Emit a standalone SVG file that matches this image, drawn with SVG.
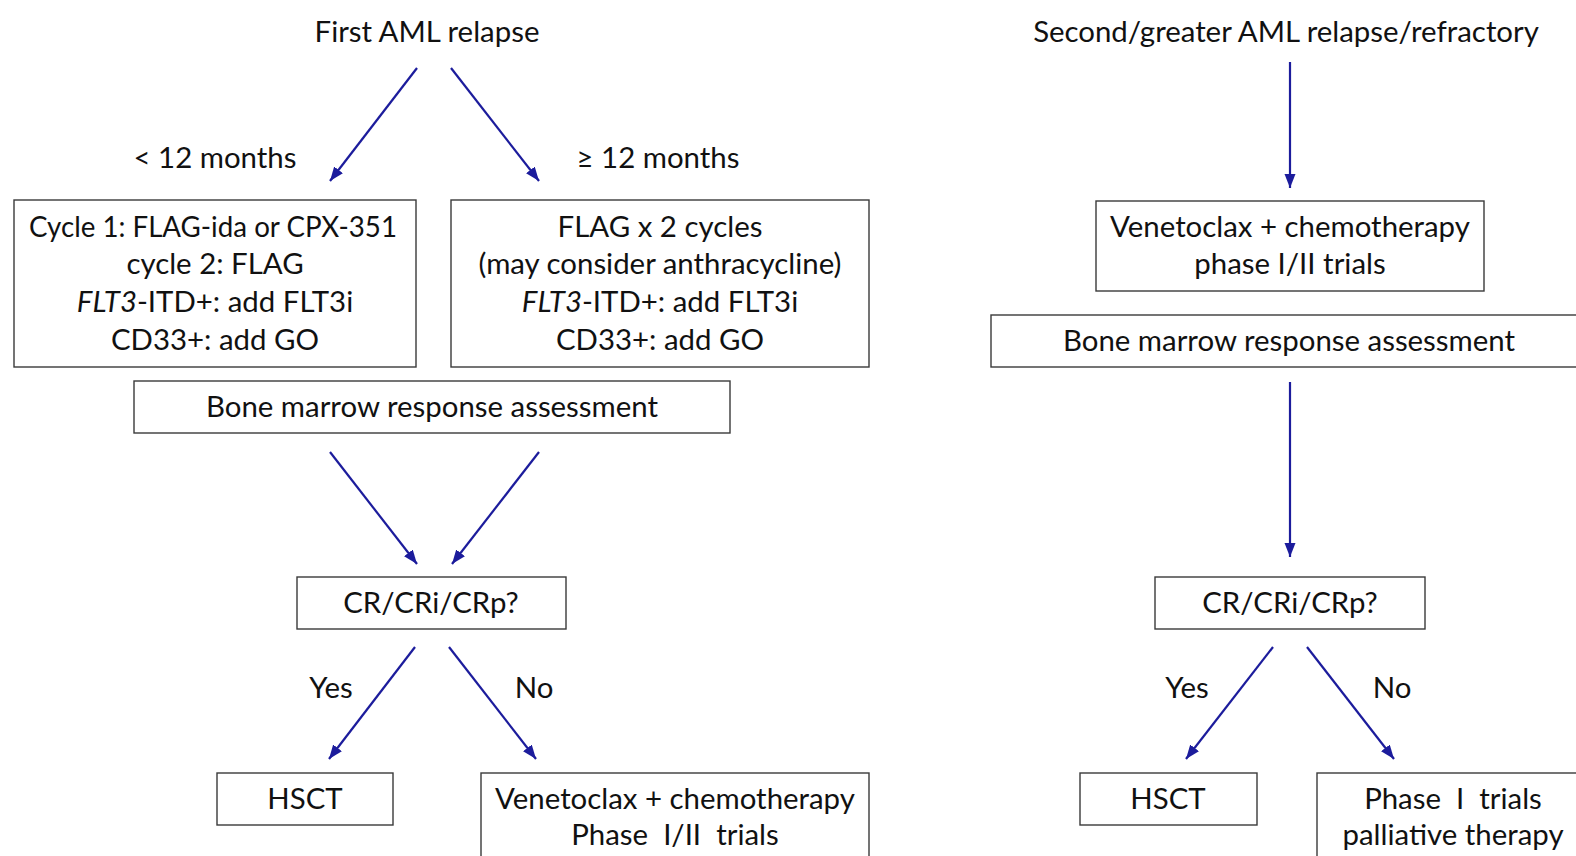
<svg xmlns="http://www.w3.org/2000/svg" width="1576" height="856" viewBox="0 0 1576 856">
  <style>
    text { font-family: Lato, "Liberation Sans", sans-serif; font-size: 29.4px; fill: #111; text-anchor: middle; }
    .box { fill: #fff; stroke: #3a3a3a; stroke-width: 1.4; }
    .arrow { stroke: #1c1c9c; stroke-width: 2.2; fill: none; marker-end: url(#ah); }
    .it { font-style: italic; }
  </style>
  <defs>
    <marker id="ah" markerUnits="userSpaceOnUse" markerWidth="15" markerHeight="12" refX="14" refY="5.5" orient="auto">
      <path d="M0,0 L14,5.5 L0,11 z" fill="#1c1c9c"/>
    </marker>
  </defs>
  <rect width="1576" height="856" fill="#fff"/>

  <g id="connectors">
    <line class="arrow" x1="417" y1="68" x2="330" y2="181"/>
    <line class="arrow" x1="451" y1="68" x2="539" y2="181"/>
    <line class="arrow" x1="330" y1="452" x2="417" y2="564"/>
    <line class="arrow" x1="539" y1="452" x2="452" y2="564"/>
    <line class="arrow" x1="415" y1="647" x2="329" y2="759"/>
    <line class="arrow" x1="449" y1="647" x2="536" y2="759"/>
    <line class="arrow" x1="1290" y1="62" x2="1290" y2="188"/>
    <line class="arrow" x1="1290" y1="382" x2="1290" y2="557"/>
    <line class="arrow" x1="1273" y1="647" x2="1186" y2="759"/>
    <line class="arrow" x1="1307" y1="647" x2="1394" y2="759"/>
  </g>

  <g id="labels">
    <text x="215" y="168">&lt; 12 months</text>
    <text x="658" y="168">≥ 12 months</text>
    <text x="331" y="698">Yes</text>
    <text x="534" y="698">No</text>
    <text x="1187" y="698">Yes</text>
    <text x="1392" y="698">No</text>
  </g>

  <g id="first-relapse">
    <text x="427" y="42">First AML relapse</text>
  </g>

  <g id="box-lt12">
    <rect class="box" x="14" y="200" width="402" height="167"/>
    <text x="213" y="237" textLength="368" lengthAdjust="spacingAndGlyphs">Cycle 1: FLAG-ida or CPX-351</text>
    <text x="215" y="274">cycle 2: FLAG</text>
    <text x="215" y="312"><tspan class="it">FLT3</tspan>-ITD+: add FLT3i</text>
    <text x="215" y="350">CD33+: add GO</text>
  </g>

  <g id="box-ge12">
    <rect class="box" x="451" y="200" width="418" height="167"/>
    <text x="660" y="237">FLAG x 2 cycles</text>
    <text x="660" y="274">(may consider anthracycline)</text>
    <text x="660" y="312"><tspan class="it">FLT3</tspan>-ITD+: add FLT3i</text>
    <text x="660" y="350">CD33+: add GO</text>
  </g>

  <g id="bm-left">
    <rect class="box" x="134" y="381" width="596" height="52"/>
    <text x="432" y="417">Bone marrow response assessment</text>
  </g>

  <g id="cr-left">
    <rect class="box" x="297" y="577" width="269" height="52"/>
    <text x="431" y="613">CR/CRi/CRp?</text>
  </g>

  <g id="hsct-left">
    <rect class="box" x="217" y="773" width="176" height="52"/>
    <text x="305" y="809">HSCT</text>
  </g>

  <g id="ven-left">
    <rect class="box" x="481" y="773" width="388" height="100"/>
    <text x="675" y="809">Venetoclax + chemotherapy</text>
    <text x="675" y="845" xml:space="preserve">Phase  I/II  trials</text>
  </g>

  <g id="second-relapse">
    <text x="1286" y="42">Second/greater AML relapse/refractory</text>
  </g>

  <g id="ven-right">
    <rect class="box" x="1096" y="201" width="388" height="90"/>
    <text x="1290" y="237">Venetoclax + chemotherapy</text>
    <text x="1290" y="274">phase I/II trials</text>
  </g>

  <g id="bm-right">
    <rect class="box" x="991" y="315" width="600" height="52"/>
    <text x="1289" y="351">Bone marrow response assessment</text>
  </g>

  <g id="cr-right">
    <rect class="box" x="1155" y="577" width="270" height="52"/>
    <text x="1290" y="613">CR/CRi/CRp?</text>
  </g>

  <g id="hsct-right">
    <rect class="box" x="1080" y="773" width="177" height="52"/>
    <text x="1168" y="809">HSCT</text>
  </g>

  <g id="phase1-right">
    <rect class="box" x="1317" y="773" width="300" height="100"/>
    <text x="1453" y="809" xml:space="preserve">Phase  I  trials</text>
    <text x="1453" y="845">palliative therapy</text>
  </g>
</svg>
